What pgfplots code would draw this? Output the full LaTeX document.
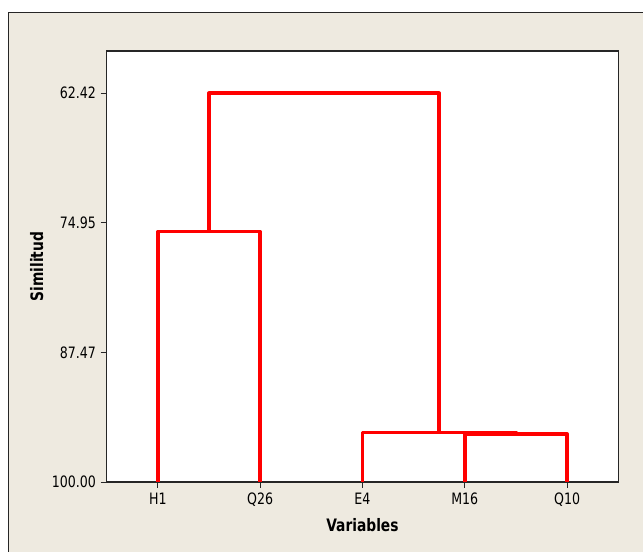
\documentclass[border=0pt]{standalone}
\usepackage{fontspec}
\setmainfont{DejaVu Sans Condensed}
\usepackage{graphicx}
\usepackage{pgfplots}
\pgfplotsset{compat=1.18}
\definecolor{bgbeige}{RGB}{238,234,224}
\definecolor{dred}{RGB}{255,0,0}
\newcommand\tl[1]{\scalebox{1}[1.12]{#1}}
\begin{document}
\begin{tikzpicture}
\useasboundingbox (0,0) rectangle (482.25pt,414pt);
\fill[white] (0,0) rectangle (482.25pt,414pt);
\fill[bgbeige] (6.2pt,0) rectangle (483pt,404.8pt);
\draw[black!85, line width=0.8pt] (6.2pt,-1pt) -- (6.2pt,404.8pt) -- (484pt,404.8pt);
\begin{axis}[
  at={(80.0pt,52.5pt)}, anchor=south west,
  scale only axis, width=383.7pt, height=323.25pt,
  xmin=0.5, xmax=5.5,
  ymin=58.34, ymax=100, y dir=reverse,
  xtick={1,2,3,4,5},
  xticklabels={\tl{H1},\tl{Q26},\tl{E4},\tl{M16},\tl{Q10}},
  ytick={62.42,74.95,87.47,100},
  yticklabels={\tl{62.42},\tl{74.95},\tl{87.47},\tl{100.00}},
  tick align=outside, tick pos=left,
  major tick length=4.5pt,
  tick style={black!85, line width=0.6pt},
  axis line style={black!85, line width=0.8pt},
  axis background/.style={fill=white},
  tick label style={font=\fontsize{10.5pt}{12pt}\selectfont},
  xlabel={\tl{Variables}}, ylabel={\tl{Similitud}},
  xlabel style={font=\fontsize{11.5pt}{13pt}\selectfont\bfseries, at={(axis description cs:0.5,-0.0998)}, anchor=center},
  ylabel style={font=\fontsize{11.5pt}{13pt}\selectfont\bfseries, at={(axis description cs:-0.1368,0.5)}, anchor=center},
  clip=false,
]
\addplot[dred, line width=2.6pt, line join=round] coordinates {(1,100) (1,75.78) (2,75.78) (2,100)};
\addplot[dred, line width=2.6pt, line join=round] coordinates {(4,100) (4,95.35) (5,95.35) (5,100)};
\addplot[dred, line width=2.6pt, line join=round] coordinates {(3,100) (3,95.2) (4.5,95.2) (4.5,95.35)};
\addplot[dred, line width=2.6pt, line join=round] coordinates {(1.5,75.78) (1.5,62.42) (3.75,62.42) (3.75,95.2)};
\end{axis}
\end{tikzpicture}
\end{document}
